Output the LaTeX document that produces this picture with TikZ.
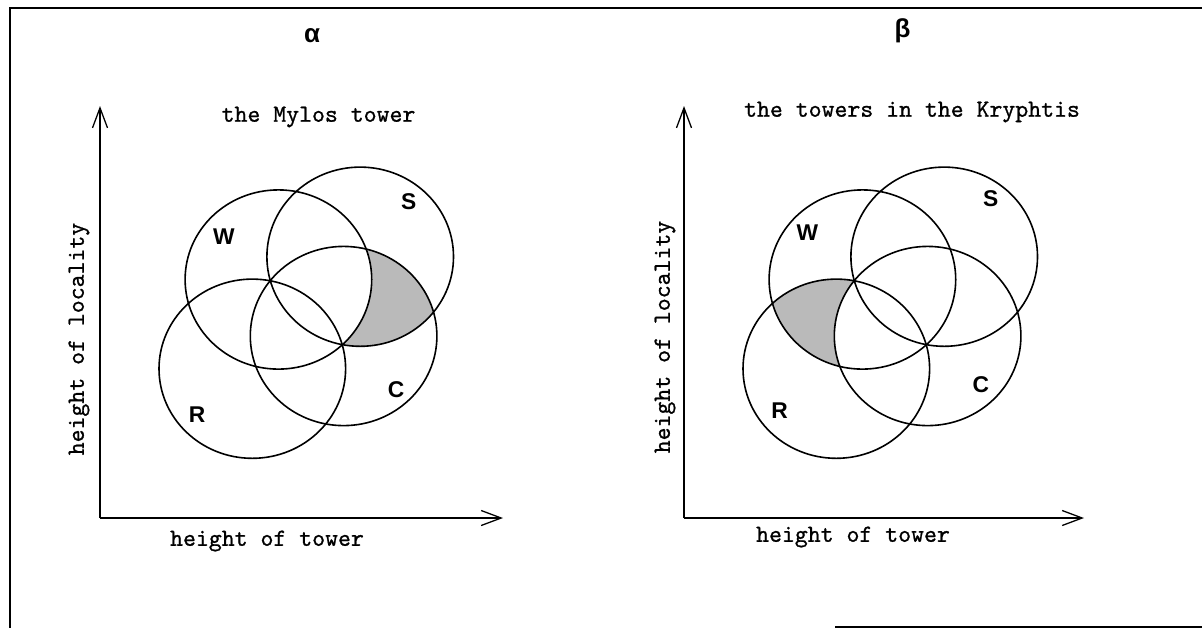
\documentclass[tikz,border=0pt]{standalone}
\usepackage{fontspec}
\setmainfont{Liberation Serif}
\newfontfamily\monof{lmmono10-regular}[Extension=.otf, FakeBold=0.9]
\newfontfamily\sansf{Liberation Sans}
\usetikzlibrary{arrows.meta}
\tikzset{
  ring/.style={draw, line width=0.8pt},
  axisline/.style={line width=0.6pt, -{Straight Barb[length=10pt,width=7.5pt,line width=0.65pt]}},
  mono/.style={font=\monof\fontsize{12.3pt}{14pt}\selectfont, inner sep=0pt},
  lab/.style={font=\sansf\bfseries\fontsize{11.4pt}{13pt}\selectfont, inner sep=0pt},
  greek/.style={font=\sansf\bfseries\fontsize{13pt}{15pt}\selectfont, inner sep=0pt},
  shade/.style={fill=black!27},
  frameline/.style={line width=0.9pt},
  er/.style={x radius=46.65pt, y radius=44.8pt}
}
\begin{document}
\begin{tikzpicture}[x=0.5pt,y=-0.5pt]
\useasboundingbox (0,0) rectangle (1202,628);
% frame
\coordinate (f1) at (1202,8);
\coordinate (f2) at (10,8);
\coordinate (f3) at (10,628);
\coordinate (f4) at (835,627);
\coordinate (f5) at (1202,627);
\draw[frameline] (f1) -- (f2) -- (f3);
\draw[frameline] (f4) -- (f5);

% titles
\node[greek] (alpha) at (312,36) {α};
\node[greek] (beta) at (902.5,31) {β};

% ---------- left panel ----------
\begin{scope}[shift={(100,518)}]
  \coordinate (LO) at (0,0);
  \coordinate (LY) at (0,-412);
  \coordinate (LX) at (403,0);
  \coordinate (LW) at (178.4,-238.5);
  \coordinate (LS) at (260.2,-261.3);
  \coordinate (LC) at (243.6,-182);
  \coordinate (LR) at (152.3,-149.3);
  \begin{scope}
    \clip (LS) ellipse [er];
    \clip (LC) ellipse [er];
    \fill[shade] (0,0) rectangle (500,-450);
    \fill[white] (LW) ellipse [er];
  \end{scope}
  \draw[ring] (LW) ellipse [er];
  \draw[ring] (LS) ellipse [er];
  \draw[ring] (LC) ellipse [er];
  \draw[ring] (LR) ellipse [er];
  \draw[axisline] (LO) -- (LY);
  \draw[axisline] (LO) -- (LX);
\end{scope}
\node[mono] (Ltitle) at (318.5,117) {the Mylos tower};
\node[mono, rotate=90] (Lyl) at (79,339) {height of locality};
\node[mono] (Lxl) at (267,541) {height of tower};
\node[lab] (LWl) at (224,237) {W};
\node[lab] (LSl) at (408.7,202) {S};
\node[lab] (LCl) at (396,390) {C};
\node[lab] (LRl) at (197,414.5) {R};

% ---------- right panel ----------
\begin{scope}[shift={(684,518)}]
  \coordinate (RO) at (0,0);
  \coordinate (RY) at (0,-412);
  \coordinate (RX) at (400,0);
  \coordinate (RW) at (178.4,-238.5);
  \coordinate (RS) at (260.2,-261.3);
  \coordinate (RC) at (243.6,-182);
  \coordinate (RR) at (152.3,-149.3);
  \begin{scope}
    \clip (RW) ellipse [er];
    \clip (RR) ellipse [er];
    \fill[shade] (0,0) rectangle (500,-450);
    \fill[white] (RC) ellipse [er];
  \end{scope}
  \draw[ring] (RW) ellipse [er];
  \draw[ring] (RS) ellipse [er];
  \draw[ring] (RC) ellipse [er];
  \draw[ring] (RR) ellipse [er];
  \draw[axisline] (RO) -- (RY);
  \draw[axisline] (RO) -- (RX);
\end{scope}
\node[mono] (Rtitle) at (912,112) {the towers in the Kryphtis};
\node[mono, rotate=90] (Ryl) at (665,337) {height of locality};
\node[mono] (Rxl) at (853,537) {height of tower};
\node[lab] (RWl) at (807.3,232.2) {W};
\node[lab] (RSl) at (990.8,198.5) {S};
\node[lab] (RCl) at (980.8,385) {C};
\node[lab] (RRl) at (779.7,410.7) {R};
\end{tikzpicture}
\end{document}
